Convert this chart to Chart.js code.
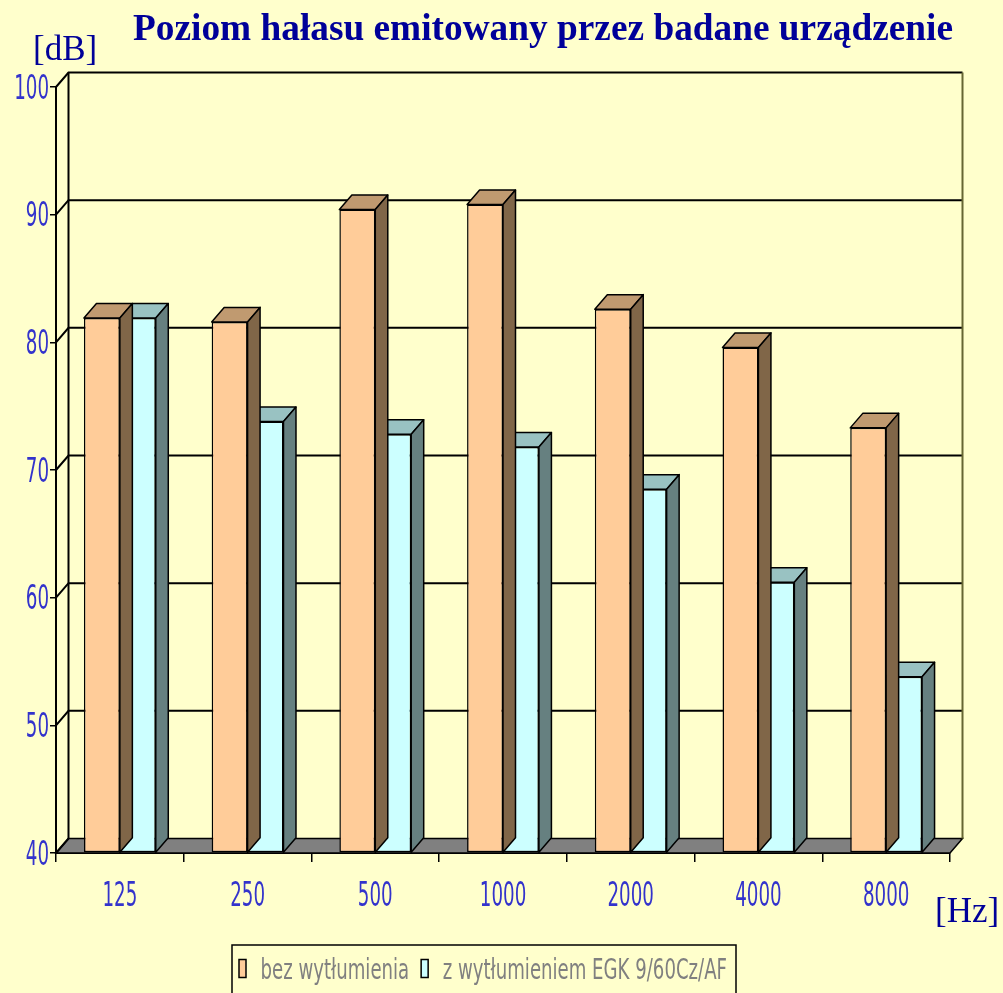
<!DOCTYPE html>
<html>
<head>
<meta charset="utf-8">
<script src="https://cdn.jsdelivr.net/npm/chart.js@4.4.1/dist/chart.umd.min.js"></script>
<style>
html, body { margin: 0; padding: 0; background: #FFFFCC; }
canvas { display: block; }
</style>
</head>
<body>
<canvas id="chart" width="1003" height="993"></canvas>
<script>
// data
const frequencies = ['125', '250', '500', '1000', '2000', '4000', '8000'];
const withoutDamping = [81.9, 81.6, 90.4, 90.8, 82.6, 79.6, 73.3];
const withDamping = [81.9, 73.8, 72.8, 71.8, 68.5, 61.2, 53.8];
const seriesNames = ['bez wytłumienia', 'z wytłumieniem EGK 9/60Cz/AF'];
const chartTitle = 'Poziom hałasu emitowany przez badane urządzenie';
const yUnit = '[dB]';
const xUnit = '[Hz]';

// depth of the fake 3d
const DX = 12.5, DY = 14.5;
const NAVY = '#000099';
const LABEL = '#3333CC';
const SANS = "'DejaVu Sans', sans-serif";

const faces = [
    {front: '#FFCC99', top: '#C09A70', side: '#806648'},
    {front: '#CCFFFF', top: '#99C2C2', side: '#668080'}
];

// no condensed font here, so squeeze the sans horizontally like the picture
const TICK_SIZE = 33;
const LEGEND_SIZE = 29;
const LEGEND_PAD = 12;
const measureCtx = document.createElement('canvas').getContext('2d');
function rawWidth(size, txt) {
    measureCtx.font = size + 'px ' + SANS;
    return measureCtx.measureText(txt).width;
}
const TICK_SQUEEZE = 46.5 / rawWidth(TICK_SIZE, '8000');
const LEGEND_SQUEEZE = 433 / (rawWidth(LEGEND_SIZE, seriesNames[0]) + rawWidth(LEGEND_SIZE, seriesNames[1]));

function squeezeFor(font) {
    if (font.indexOf('DejaVu Sans') < 0) return 0;
    return font.indexOf(LEGEND_SIZE + 'px') >= 0 ? LEGEND_SQUEEZE : TICK_SQUEEZE;
}

function squeezeText(ctx) {
    const fill = ctx.fillText.bind(ctx);
    const measure = ctx.measureText.bind(ctx);
    ctx.fillText = function(text, x, y, maxWidth) {
        const sx = squeezeFor(this.font);
        if (!sx) return fill(text, x, y, maxWidth);
        this.save();
        // dejavu sits a bit high on a middle baseline
        this.translate(x, y + (this.textBaseline === 'middle' ? 3 : 0));
        this.scale(sx, 1);
        fill(text, 0, 0);
        this.restore();
    };
    ctx.measureText = function(text) {
        const m = measure(text);
        const sx = squeezeFor(this.font);
        if (!sx) return m;
        return {
            width: m.width * sx,
            actualBoundingBoxLeft: m.actualBoundingBoxLeft * sx,
            actualBoundingBoxRight: m.actualBoundingBoxRight * sx,
            actualBoundingBoxAscent: m.actualBoundingBoxAscent,
            actualBoundingBoxDescent: m.actualBoundingBoxDescent
        };
    };
}

function poly(ctx, pts, fill) {
    ctx.beginPath();
    ctx.moveTo(pts[0][0], pts[0][1]);
    for (let i = 1; i < pts.length; i++) ctx.lineTo(pts[i][0], pts[i][1]);
    ctx.closePath();
    ctx.fillStyle = fill;
    ctx.fill();
    ctx.stroke();
}

const box3d = {
    id: 'box3d',
    beforeDatasetsDraw(chart) {
        const {ctx, chartArea: a, scales: {y}} = chart;
        const b = y.getPixelForValue(y.min);
        ctx.save();
        ctx.strokeStyle = '#000';
        // floor
        ctx.lineWidth = 1.5;
        poly(ctx, [[a.left, b], [a.right, b], [a.right + DX, b - DY], [a.left + DX, b - DY]], '#808080');
        // back wall + left wall grid
        ctx.lineWidth = 2;
        y.ticks.forEach(t => {
            const py = y.getPixelForValue(t.value);
            ctx.beginPath();
            ctx.moveTo(a.left, py);
            ctx.lineTo(a.left + DX, py - DY);
            if (t.value > y.min) ctx.lineTo(a.right + DX, py - DY);
            ctx.stroke();
        });
        ctx.beginPath();
        ctx.moveTo(a.left + DX, b - DY);
        ctx.lineTo(a.left + DX, a.top - DY);
        ctx.stroke();
        ctx.strokeStyle = '#666633';
        ctx.beginPath();
        ctx.moveTo(a.right + DX, b - DY);
        ctx.lineTo(a.right + DX, a.top - DY);
        ctx.stroke();
        ctx.restore();
    },
    // tops and sides after each dataset, so the next series covers them
    afterDatasetDraw(chart, args) {
        const ctx = chart.ctx;
        const f = faces[args.index];
        const floor = chart.chartArea.bottom;
        ctx.save();
        ctx.strokeStyle = '#000';
        ctx.lineWidth = 1.5;
        ctx.lineJoin = 'round';
        args.meta.data.forEach(bar => {
            const {x, y, base, width} = bar.getProps(['x', 'y', 'base', 'width'], true);
            const bot = Math.min(base, floor);
            const l = x - width / 2, r = x + width / 2;
            poly(ctx, [[l, y], [r, y], [r + DX, y - DY], [l + DX, y - DY]], f.top);
            poly(ctx, [[r, y], [r + DX, y - DY], [r + DX, bot - DY], [r, bot]], f.side);
        });
        ctx.restore();
    },
    afterDraw(chart) {
        const ctx = chart.ctx;
        ctx.save();
        ctx.fillStyle = NAVY;
        ctx.textBaseline = 'alphabetic';
        ctx.textAlign = 'left';
        // title, fitted to the width it has in the picture
        ctx.font = "bold 37px 'Liberation Serif', 'Times New Roman', serif";
        const w = ctx.measureText(chartTitle).width;
        ctx.save();
        ctx.translate(133, 40);
        ctx.scale(820 / w, 1);
        ctx.fillText(chartTitle, 0, 0);
        ctx.restore();
        ctx.font = "35px 'Liberation Serif', 'Times New Roman', serif";
        ctx.fillText(yUnit, 33, 60);
        ctx.fillText(xUnit, 935, 922);
        // frame round the legend
        const boxes = chart.legend.legendHitBoxes;
        if (boxes && boxes.length) {
            const left = Math.min(...boxes.map(h => h.left)) - 7;
            const right = Math.max(...boxes.map(h => h.left + h.width)) + 9;
            ctx.strokeStyle = '#000';
            ctx.lineWidth = 1.5;
            ctx.strokeRect(left, chart.legend.top + 3, right - left, 60);
        }
        ctx.restore();
    }
};

const canvas = document.getElementById('chart');
squeezeText(canvas.getContext('2d'));

new Chart(canvas, {
    type: 'bar',
    data: {
        labels: frequencies,
        datasets: [{
            label: seriesNames[0],
            data: withoutDamping,
            base: 40,
            backgroundColor: faces[0].front,
            borderColor: '#000',
            borderWidth: 1.5,
            borderSkipped: false
        }, {
            label: seriesNames[1],
            data: withDamping,
            base: 40,
            backgroundColor: faces[1].front,
            borderColor: '#000',
            borderWidth: 1.5,
            borderSkipped: false
        }]
    },
    options: {
        responsive: false,
        animation: false,
        devicePixelRatio: 1,
        // left padding moves the legend centre to where the picture has it
        layout: {padding: {top: 87, right: 53, left: 16, bottom: 0}},
        datasets: {bar: {categoryPercentage: 0.5625, barPercentage: 1}},
        scales: {
            x: {
                grid: {drawOnChartArea: false, drawTicks: true, tickLength: 9, color: '#000', lineWidth: 1.5},
                border: {display: true, color: '#000', width: 2},
                ticks: {color: LABEL, font: {family: SANS, size: TICK_SIZE}, padding: 13},
                afterFit(s) { s.height = 993 - 853 - (Math.max(LEGEND_SIZE, 18) + LEGEND_PAD + 10); }
            },
            y: {
                min: 40,
                max: 100,
                grid: {drawOnChartArea: false, drawTicks: true, tickLength: 6, color: '#000', lineWidth: 1.5},
                border: {display: true, color: '#000', width: 2},
                ticks: {stepSize: 10, color: LABEL, font: {family: SANS, size: TICK_SIZE}, padding: 1},
                afterFit(s) { s.width = 40; }
            }
        },
        plugins: {
            legend: {
                position: 'bottom',
                labels: {
                    color: '#808080',
                    font: {family: SANS, size: LEGEND_SIZE},
                    boxWidth: 7, boxHeight: 18, padding: LEGEND_PAD
                }
            },
            tooltip: {enabled: false}
        }
    },
    plugins: [box3d]
});
</script>
</body>
</html>
